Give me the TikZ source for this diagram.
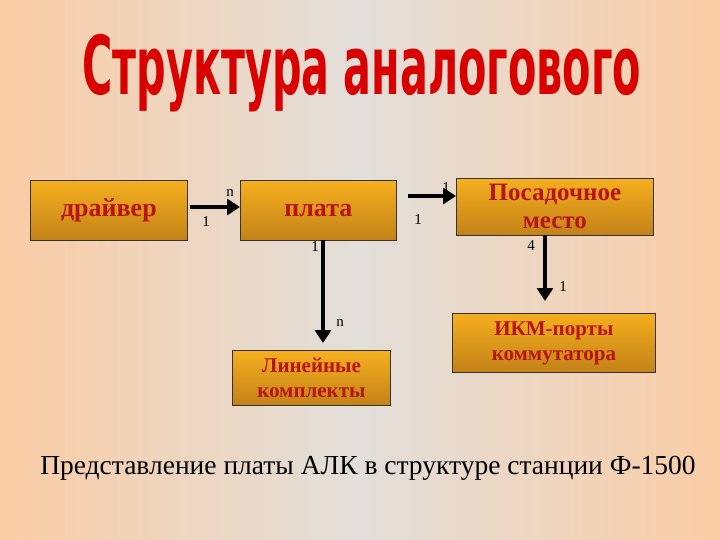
\documentclass[tikz,border=0pt]{standalone}
\usepackage{fontspec}
\setmainfont{Liberation Serif}
\newfontfamily\titlefont{DejaVu Sans Condensed}
\usetikzlibrary{arrows.meta}
\definecolor{peach}{RGB}{250,205,165}
\definecolor{midg}{RGB}{226,222,218}
\definecolor{boxtop}{RGB}{245,175,30}
\definecolor{boxbot}{RGB}{195,130,25}
\definecolor{txtred}{RGB}{185,20,20}
\begin{document}
\begin{tikzpicture}[x=1pt,y=-1pt,
  blk/.style={draw=black!80,line width=0.8pt,top color=boxtop,bottom color=boxbot,anchor=north west,inner sep=0pt,
    font=\bfseries\fontsize{26}{26}\selectfont,text=txtred,align=center},
  conn/.style={line width=4pt,-{Triangle[length=13pt,width=16pt]}},
  lab/.style={font=\fontsize{15}{15}\selectfont}]
\shade[left color=peach,right color=peach,middle color=midg] (0,0) rectangle (720,540);
\useasboundingbox (0,0) rectangle (720,540);
\node[yscale=1.45,xscale=0.82] (title) at (362,73) {\titlefont\bfseries\fontsize{56}{56}\selectfont\color{red!85!black}Структура аналогового};
\node[blk,minimum width=157pt,minimum height=60pt] (drv) at (30,180) {драйвер};
\node[blk,minimum width=156pt,minimum height=60pt] (pl) at (240,180) {плата};
\node[blk,minimum width=197pt,minimum height=57pt,font=\bfseries\fontsize{25}{28}\selectfont] (pm) at (456,178) {Посадочное\\место};
\node[blk,minimum width=158pt,minimum height=55pt,font=\bfseries\fontsize{21}{25}\selectfont] (lk) at (232,350) {Линейные\\комплекты};
\node[blk,minimum width=203pt,minimum height=59pt,font=\bfseries\fontsize{21}{25}\selectfont] (ikm) at (452,313) {ИКМ-порты\\коммутатора};
\coordinate (a1) at (190,207);
\coordinate (a2) at (408,196);
\draw[conn] (a1) -- (a1 -| pl.west);
\draw[conn] (a2) -- (a2 -| pm.west);
\coordinate (d1) at (323,240);
\coordinate (d2) at (323,343);
\draw[conn] (d1) -- (d2);
\coordinate (e1) at (545,235);
\coordinate (e2) at (545,301);
\draw[conn] (e1) -- (e2);
\node[lab] (l1) at (230,193) {n};
\node[lab] (l2) at (206,222) {1};
\node[lab] (l3) at (446,188) {1};
\node[lab] (l4) at (418,220) {1};
\node[lab] (l5) at (315,247) {1};
\node[lab] (l6) at (340,323) {n};
\node[lab] (l7) at (531,246) {4};
\node[lab] (l8) at (563,287) {1};
\node (cap) at (368,468) {\fontsize{27.5}{27.5}\selectfont Представление платы АЛК в структуре станции Ф-1500};
\end{tikzpicture}
\end{document}
